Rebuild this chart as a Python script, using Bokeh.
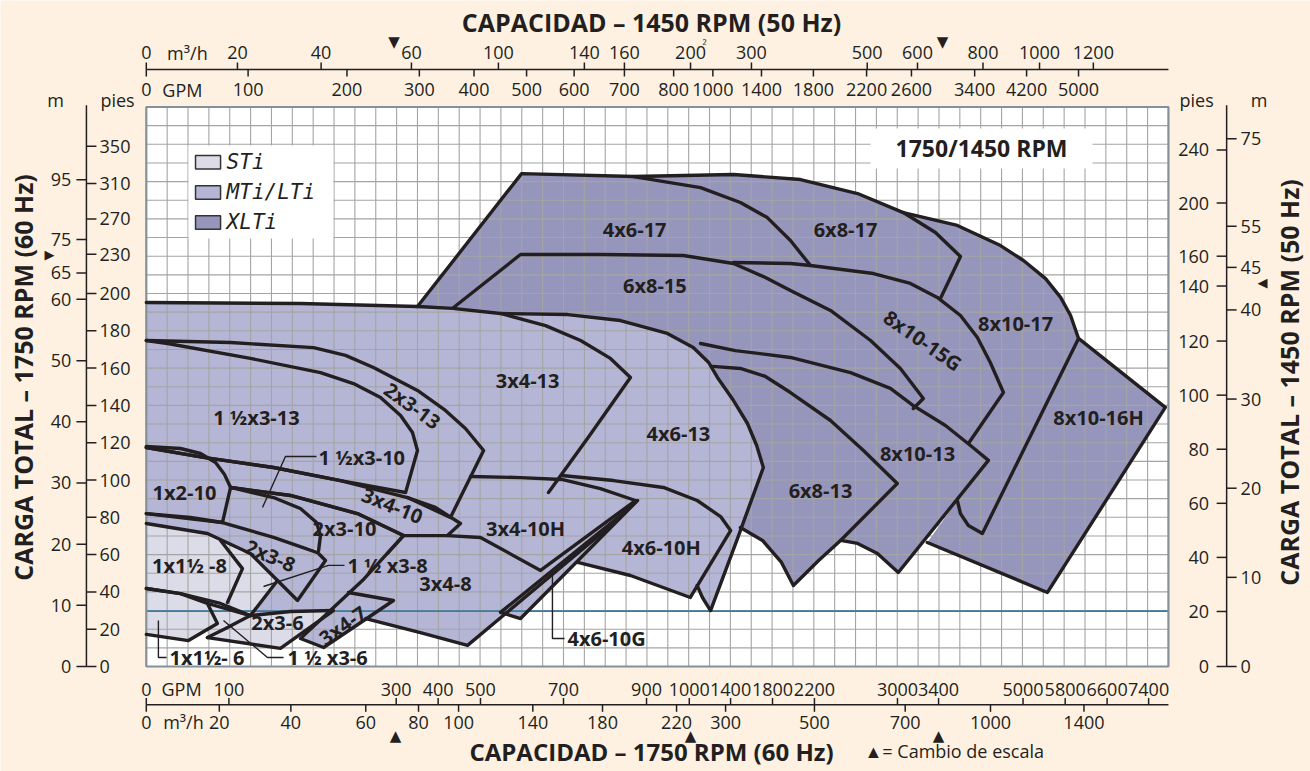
import math
from bokeh.plotting import figure
from bokeh.models import Range1d, ColumnDataSource
from bokeh.core.properties import value
from bokeh.embed import file_html
from bokeh.resources import INLINE

# ---------------------------------------------------------------------------
# DATA  (all positions in chart-grid units: columns across, rows up)
# ---------------------------------------------------------------------------
GRID_COLS = 49
GRID_ROWS = 30
BLUE_LINE_ROW = 2.97          # 20 ft at 1450 RPM

# --- pump coverage areas: visible outline, then hidden closing vertices ----
# XLTi
PUMP_4X6_17 = [(13.00, 19.30), (17.99, 26.43), (23.36, 26.27), (26.57, 25.68), (28.48, 24.88),
               (29.77, 24.07), (30.88, 22.84), (31.84, 21.50)]
PUMP_4X6_17_HIDDEN = [(28.15, 21.66), (25.75, 22.04), (17.94, 22.09), (14.73, 19.25)]
PUMP_6X8_17 = [(23.36, 26.27), (28.15, 26.38), (31.36, 26.11), (34.10, 25.36), (36.29, 24.34),
               (37.83, 23.27), (39.03, 21.98), (38.07, 19.73)]
PUMP_6X8_17_HIDDEN = [(34.86, 21.07), (31.84, 21.50)]
PUMP_8X10_17 = [(36.29, 24.34), (38.88, 23.65), (40.95, 22.57), (42.05, 21.77), (43.11, 20.80),
                (43.83, 19.79), (44.31, 18.82), (44.69, 17.59), (40.08, 7.13), (39.41, 7.56),
                (39.03, 8.20), (38.88, 8.90)]
PUMP_8X10_17_HIDDEN = [(39.41, 11.96), (41.09, 14.69), (40.46, 16.30), (39.84, 17.64), (39.03, 18.82),
                       (37.92, 19.79), (39.03, 21.98)]
PUMP_8X10_16H = [(44.69, 17.59), (48.85, 13.89), (43.20, 3.97), (37.44, 6.65)]
PUMP_8X10_16H_HIDDEN = [(38.88, 8.90), (39.41, 11.96), (41.09, 14.69)]
PUMP_8X10_15G = [(28.15, 21.66), (30.88, 21.61), (31.84, 21.50), (34.86, 21.07), (36.63, 20.54),
                 (37.92, 19.79), (39.03, 18.82), (39.84, 17.64), (40.46, 16.30), (41.09, 14.69),
                 (39.41, 11.96)]
PUMP_8X10_15G_HIDDEN = [(36.77, 13.83), (30.88, 20.16)]
PUMP_6X8_15 = [(14.73, 19.25), (17.94, 22.09), (21.77, 22.09), (25.75, 22.04), (28.15, 21.61),
               (29.68, 20.86), (30.88, 20.16), (32.80, 19.09), (34.72, 17.48), (36.15, 15.98),
               (37.25, 14.37), (36.77, 13.83)]
PUMP_6X8_15_HIDDEN = [(31.36, 15.87), (29.44, 15.34), (27.38, 15.50), (26.22, 17.10), (24.98, 17.69),
                      (22.73, 18.39), (20.20, 18.71), (16.98, 18.77)]
PUMP_8X10_13 = [(26.57, 17.32), (28.24, 16.94), (30.88, 16.57), (33.76, 15.76), (35.67, 14.91),
                (36.77, 13.99), (38.31, 12.92), (39.51, 11.85), (40.37, 11.05), (36.05, 5.04),
                (35.05, 6.06), (34.10, 6.60), (33.28, 6.76)]
PUMP_8X10_13_HIDDEN = []
PUMP_6X8_13 = [(27.15, 16.09), (28.48, 15.98), (29.68, 15.55), (30.88, 14.69), (32.80, 13.19),
               (34.38, 11.58), (36.00, 9.81), (33.28, 6.76), (32.23, 5.68), (31.02, 4.34),
               (30.45, 5.58), (29.54, 6.76), (28.48, 7.45)]
PUMP_6X8_13_HIDDEN = [(29.06, 12.12)]

# MTi / LTi
PUMP_3X4_13 = [(0.00, 19.52), (7.39, 19.46), (13.00, 19.30), (14.68, 19.20), (16.98, 18.93),
               (19.14, 18.28), (20.82, 17.48), (22.25, 16.52), (23.21, 15.50), (21.25, 12.39),
               (19.28, 9.33)]
PUMP_3X4_13_HIDDEN = [(15.06, 7.83), (0.00, 11.74)]
PUMP_4X6_13 = [(16.98, 18.93), (20.20, 18.87), (22.73, 18.55), (24.98, 17.86), (26.22, 17.10),
               (26.96, 16.30), (27.38, 15.50), (28.15, 14.26), (28.82, 13.03), (29.26, 11.85),
               (29.58, 10.67), (28.34, 6.86), (27.05, 3.00), (26.66, 3.70), (26.41, 4.34)]
PUMP_4X6_13_HIDDEN = [(20.68, 5.58), (19.28, 9.33), (23.21, 15.50)]
PUMP_1H3_13 = [(0.00, 17.48), (1.02, 17.32), (4.99, 16.52), (8.35, 15.76), (9.93, 15.17),
               (11.23, 14.42), (12.19, 13.46), (12.76, 12.55), (13.00, 11.58), (12.43, 9.33),
               (9.31, 9.97), (6.10, 10.67), (2.74, 11.21), (0.00, 11.74)]
PUMP_1H3_13_HIDDEN = []
PUMP_2X3_13 = [(0.00, 17.48), (4.04, 17.37), (8.02, 17.10), (9.55, 16.68), (10.89, 16.03),
               (13.00, 14.80), (14.34, 13.73), (15.30, 12.76), (16.17, 11.58), (14.58, 7.99),
               (12.52, 9.06), (9.31, 9.97), (6.10, 10.67), (2.74, 11.21), (0.00, 11.74)]
PUMP_2X3_13_HIDDEN = []
PUMP_1X2_10 = [(0.00, 11.80), (1.64, 11.69), (2.60, 11.42), (3.32, 10.94), (3.75, 10.29),
               (4.04, 9.60), (3.65, 7.72), (2.12, 7.99), (0.00, 8.20)]
PUMP_1X2_10_HIDDEN = []
PUMP_3X4_10 = [(12.52, 9.06), (13.86, 8.53), (15.06, 7.67), (14.44, 7.02), (12.33, 7.02),
               (10.12, 8.20), (6.91, 9.17), (4.04, 9.60)]
PUMP_3X4_10_HIDDEN = [(2.74, 11.21), (6.10, 10.67), (9.31, 9.97)]
PUMP_1H3_10 = [(4.04, 9.60), (6.10, 9.06), (7.39, 8.47), (8.16, 7.72), (8.35, 7.02), (8.26, 6.22)]
PUMP_1H3_10_HIDDEN = [(6.10, 6.92), (3.65, 7.72)]
PUMP_2X3_10 = [(4.04, 9.60), (6.91, 9.17), (10.12, 8.20), (12.33, 7.02), (11.56, 6.06)]
PUMP_2X3_10_HIDDEN = [(8.59, 5.68), (8.26, 6.22), (8.16, 7.72)]
PUMP_2X3_8 = [(0.00, 8.20), (3.65, 7.72), (6.10, 6.92), (8.21, 6.11), (8.59, 5.68), (7.25, 3.54),
              (6.29, 4.61), (4.99, 6.06), (2.93, 7.13), (0.00, 7.67)]
PUMP_2X3_8_HIDDEN = []
PUMP_3X4_7 = [(12.33, 7.02), (10.36, 4.61), (7.39, 1.50), (8.50, 1.02), (11.85, 3.54), (9.69, 3.97)]
PUMP_3X4_7_HIDDEN = []
PUMP_3X4_8 = [(22.73, 7.99), (15.40, 1.13), (13.14, 1.82), (10.52, 2.57)]
PUMP_3X4_8_HIDDEN = [(8.97, 3.00), (4.99, 2.73), (6.29, 4.61), (7.25, 3.54), (8.59, 5.68), (12.33, 7.02)]
PUMP_3X4_10H = [(15.54, 10.19), (17.94, 10.13), (19.91, 10.03), (21.77, 9.54), (23.45, 8.90),
                (18.90, 5.15), (16.02, 6.92), (14.44, 7.02)]
PUMP_3X4_10H_HIDDEN = []
PUMP_4X6_10G = [(22.73, 8.10), (16.98, 2.90), (17.94, 2.57), (23.55, 8.90), (22.73, 8.10)]
PUMP_4X6_10G_HIDDEN = []
PUMP_4X6_10H = [(19.91, 10.24), (22.40, 9.97), (24.79, 9.60), (26.41, 8.90), (27.53, 8.04),
                (28.01, 7.29), (26.08, 3.70), (23.21, 4.88), (20.68, 5.58)]
PUMP_4X6_10H_HIDDEN = []

# STi
PUMP_1X1H_8 = [(3.56, 6.76), (4.61, 5.25), (3.89, 3.43)]
PUMP_1X1H_8_HIDDEN = [(2.60, 3.75), (0.00, 4.08), (0.00, 7.72), (2.93, 7.13)]
PUMP_1H3_8 = [(6.29, 4.61), (4.99, 2.73), (3.56, 3.38), (1.64, 3.91), (0.00, 4.18)]
PUMP_1H3_8_HIDDEN = [(0.00, 7.67), (2.93, 7.13), (4.99, 6.06)]
PUMP_1X1H_6 = [(0.00, 4.18), (1.64, 3.91), (2.93, 3.38), (3.41, 2.31), (2.02, 1.39), (0.00, 1.72)]
PUMP_1X1H_6_HIDDEN = []
PUMP_1H3_6 = [(2.93, 3.38), (4.99, 2.73), (3.80, 2.04), (2.93, 1.55)]
PUMP_1H3_6_HIDDEN = []
PUMP_2X3_6 = [(4.99, 2.73), (6.91, 2.95), (8.97, 3.00), (6.43, 0.97), (2.93, 1.55)]
PUMP_2X3_6_HIDDEN = []

# --- pump labels ----------------------------------------------------------
LABELS = ["4x6-17", "6x8-17", "6x8-15", "8x10-15G", "8x10-17", "8x10-16H", "8x10-13", "6x8-13",
          "3x4-13", "4x6-13", "2x3-13", "1 ½x3-13", "1x2-10", "3x4-10", "2x3-10", "3x4-10H",
          "4x6-10H", "2x3-8", "1x1½ -8", "3x4-8", "2x3-6", "3x4-7"]
LABEL_C = [23.41, 33.52, 24.38, 37.22, 41.67, 45.65, 36.97, 32.32, 18.28, 25.51, 12.76, 5.28,
           1.83, 11.80, 9.50, 18.18, 24.69, 5.95, 2.07, 14.34, 6.29, 9.41]
LABEL_R = [23.43, 23.43, 20.43, 17.48, 18.39, 13.35, 11.42, 9.44, 15.34, 12.49, 13.99, 13.35,
           9.33, 8.63, 7.40, 7.40, 6.38, 5.95, 5.42, 4.45, 2.36, 2.20]
LABEL_ANGLE_DEG = [0, 0, 0, -35, 0, 0, 0, 0, 0, 0, -36, 0, 0, -22, 0, 0, 0, -23, 0, 0, 0, 35]

CALLOUTS = ["1 ½x3-10", "1 ½ x3-8", "1x1½- 6", "1 ½ x3-6", "4x6-10G"]
CALLOUT_C = [8.26, 9.64, 1.11, 6.77, 20.19]
CALLOUT_R = [11.21, 5.42, 0.48, 0.48, 1.50]
LEADER_1H3_10 = [(8.16, 11.26), (6.67, 11.26), (5.57, 8.53)]
LEADER_1H3_8 = [(9.50, 5.42), (8.73, 5.42), (5.62, 4.29)]
LEADER_1X1H_6 = [(0.58, 2.47), (0.58, 0.48), (0.97, 0.48)]
LEADER_1H3_6 = [(3.70, 2.47), (5.81, 0.48), (6.58, 0.48)]
LEADER_4X6_10G = [(19.47, 5.04), (19.47, 1.50), (20.05, 1.50)]

# --- axes -------------------------------------------------------------------
TOP_M3H_LABELS = ["0", "20", "40", "60", "100", "140", "160", "200", "300", "500", "600", "800", "1000", "1200"]
TOP_M3H_POS = [0, 4.37, 8.38, 12.71, 16.88, 21.00, 22.92, 26.09, 29.01, 34.56, 36.97, 40.11, 42.82, 45.40]
TOP_GPM_LABELS = ["0", "100", "200", "300", "400", "500", "600", "700", "800", "1000", "1400", "1800",
                  "2200", "2600", "3400", "4200", "5000"]
TOP_GPM_POS = [0, 4.88, 9.62, 13.09, 15.71, 18.23, 20.51, 22.92, 25.28, 27.16, 29.49, 31.98, 34.53,
               36.68, 39.71, 42.20, 44.69]
BOT_GPM_LABELS = ["0", "100", "300", "400", "500", "700", "900", "1000", "1400", "1800", "2200", "3000",
                  "3400", "5000", "5800", "6600", "7400"]
BOT_GPM_POS = [0, 3.96, 11.98, 13.99, 16.02, 20.00, 23.98, 26.03, 28.01, 30.02, 32.03, 36.01, 37.98,
               42.03, 44.05, 46.06, 48.05]
BOT_M3H_LABELS = ["0", "20", "40", "60", "80", "100", "140", "180", "220", "300", "500", "700", "1000", "1400"]
BOT_M3H_POS = [0, 3.50, 6.93, 10.52, 13.05, 14.97, 18.53, 21.87, 25.42, 27.77, 32.03, 36.38, 40.47, 44.95]

LEFT_FT_LABELS = ["0", "20", "40", "60", "80", "100", "120", "140", "160", "180", "200", "230", "270", "310", "350"]
LEFT_FT_POS = [0, 2, 4, 6, 8, 10, 12, 14, 16, 18, 20, 22.1, 24.0, 25.9, 27.9]
LEFT_M_LABELS = ["0", "10", "20", "30", "40", "50", "60", "65", "75", "95"]
LEFT_M_POS = [0, 3.28, 6.56, 9.84, 13.12, 16.40, 19.69, 21.1, 22.9, 26.1]
RIGHT_FT_LABELS = ["0", "20", "40", "60", "80", "100", "120", "140", "160", "200", "240"]
RIGHT_FT_POS = [0, 2.95, 5.85, 8.75, 11.65, 14.55, 17.45, 20.4, 22.0, 24.85, 27.7]
RIGHT_M_LABELS = ["0", "10", "20", "30", "40", "45", "55", "75"]
RIGHT_M_POS = [0, 4.78, 9.56, 14.34, 19.12, 21.4, 23.6, 28.3]

# scale-change markers
TOP_MARK_POS = [11.87, 38.17]
BOT_MARK_POS = [11.95, 26.09, 37.98]
LEFT_MARK_ROW = 22.1
RIGHT_MARK_ROW = 20.6

LEGEND_NAMES = ["STi", "MTi/LTi", "XLTi"]

# ---------------------------------------------------------------------------
# STYLE / LAYOUT
# ---------------------------------------------------------------------------
BG = "#fef1e2"
INK = "#231f20"
STI_C = "#dcdce9"
MTI_C = "#b5b6d5"
XLTI_C = "#9696bd"
GRID_C = "#a4a4a4"
BORDER_C = "#84909a"
BLUE_C = "#3a7ca5"
FONT = "Open Sans"

W, H = 1310, 771
COL_PX, ROW_PX = 20.86, 18.65
GRID_X0_PX, GRID_Y0_PX = 145.8, 666.0       # grid origin inside the canvas
x_start = -GRID_X0_PX / COL_PX
x_end = (W - GRID_X0_PX) / COL_PX
y_start = -(H - GRID_Y0_PX) / ROW_PX
y_end = GRID_Y0_PX / ROW_PX

p = figure(width=W, height=H, x_range=Range1d(x_start, x_end), y_range=Range1d(y_start, y_end),
           output_backend="svg", toolbar_location=None, min_border=0,
           x_axis_location=None, y_axis_location=None,
           background_fill_color=BG, border_fill_color=BG)
p.grid.visible = False
p.outline_line_color = None


def text(xs, ys, texts, size, style="normal", align="center", angles=None, font=FONT,
         color=INK, baseline="middle"):
    if angles is None:
        angles = [0.0] * len(xs)
    src = ColumnDataSource(dict(x=list(xs), y=list(ys), t=list(texts), a=list(angles)))
    p.text(x="x", y="y", text="t", angle="a", source=src, text_font=value(font),
           text_font_size=size, text_font_style=style, text_align=align,
           text_baseline=baseline, text_color=color)


# white grid background
p.quad(left=[0], right=[GRID_COLS], bottom=[0], top=[GRID_ROWS], fill_color="white", line_color=None)

PUMPS = [
    ("XLTi", PUMP_4X6_17, PUMP_4X6_17_HIDDEN), ("XLTi", PUMP_6X8_17, PUMP_6X8_17_HIDDEN),
    ("XLTi", PUMP_8X10_17, PUMP_8X10_17_HIDDEN), ("XLTi", PUMP_8X10_16H, PUMP_8X10_16H_HIDDEN),
    ("XLTi", PUMP_8X10_15G, PUMP_8X10_15G_HIDDEN), ("XLTi", PUMP_6X8_15, PUMP_6X8_15_HIDDEN),
    ("XLTi", PUMP_8X10_13, PUMP_8X10_13_HIDDEN), ("XLTi", PUMP_6X8_13, PUMP_6X8_13_HIDDEN),
    ("MTi", PUMP_3X4_13, PUMP_3X4_13_HIDDEN), ("MTi", PUMP_4X6_13, PUMP_4X6_13_HIDDEN),
    ("MTi", PUMP_1H3_13, PUMP_1H3_13_HIDDEN), ("MTi", PUMP_2X3_13, PUMP_2X3_13_HIDDEN),
    ("MTi", PUMP_1X2_10, PUMP_1X2_10_HIDDEN), ("MTi", PUMP_3X4_10, PUMP_3X4_10_HIDDEN),
    ("MTi", PUMP_1H3_10, PUMP_1H3_10_HIDDEN), ("MTi", PUMP_2X3_10, PUMP_2X3_10_HIDDEN),
    ("MTi", PUMP_2X3_8, PUMP_2X3_8_HIDDEN), ("MTi", PUMP_3X4_7, PUMP_3X4_7_HIDDEN),
    ("MTi", PUMP_3X4_8, PUMP_3X4_8_HIDDEN), ("MTi", PUMP_3X4_10H, PUMP_3X4_10H_HIDDEN),
    ("MTi", PUMP_4X6_10G, PUMP_4X6_10G_HIDDEN), ("MTi", PUMP_4X6_10H, PUMP_4X6_10H_HIDDEN),
    ("STi", PUMP_1X1H_8, PUMP_1X1H_8_HIDDEN), ("STi", PUMP_1H3_8, PUMP_1H3_8_HIDDEN),
    ("STi", PUMP_1X1H_6, PUMP_1X1H_6_HIDDEN), ("STi", PUMP_1H3_6, PUMP_1H3_6_HIDDEN),
    ("STi", PUMP_2X3_6, PUMP_2X3_6_HIDDEN),
]
SERIES_COLOR = {"STi": STI_C, "MTi": MTI_C, "XLTi": XLTI_C}

for series in ["XLTi", "MTi", "STi"]:
    xs, ys = [], []
    for s, edge, hidden in PUMPS:
        if s != series:
            continue
        pts = edge + hidden
        xs.append([q[0] for q in pts])
        ys.append([q[1] for q in pts])
    p.patches(xs, ys, fill_color=SERIES_COLOR[series], line_color=None)

# grid lines
vx = list(range(1, GRID_COLS))
hy = list(range(1, GRID_ROWS))
p.segment(x0=vx, y0=[0] * len(vx), x1=vx, y1=[GRID_ROWS] * len(vx), line_color=GRID_C, line_width=1.1)
p.segment(x0=[0] * len(hy), y0=hy, x1=[GRID_COLS] * len(hy), y1=hy, line_color=GRID_C, line_width=1.1)
p.line([0, GRID_COLS], [BLUE_LINE_ROW, BLUE_LINE_ROW], line_color=BLUE_C, line_width=1.6)
p.quad(left=[0], right=[GRID_COLS], bottom=[0], top=[GRID_ROWS], fill_color=None,
       line_color=BORDER_C, line_width=2.2)

# outlines
p.multi_line([[q[0] for q in e] for _, e, _ in PUMPS], [[q[1] for q in e] for _, e, _ in PUMPS],
             line_color=INK, line_width=3.4, line_join="round", line_cap="round")
LEADERS = [LEADER_1H3_10, LEADER_1H3_8, LEADER_1X1H_6, LEADER_1H3_6, LEADER_4X6_10G]
p.multi_line([[q[0] for q in l] for l in LEADERS], [[q[1] for q in l] for l in LEADERS],
             line_color=INK, line_width=1.4)

# labels
text(LABEL_C, LABEL_R, LABELS, "20px", "bold", angles=[math.radians(a) for a in LABEL_ANGLE_DEG])
text(CALLOUT_C, CALLOUT_R, CALLOUTS, "20px", "bold", align="left")

# legend box
p.quad(left=[2.02], right=[8.97], bottom=[22.95], top=[27.94], fill_color="white", line_color=None)
LEG_ROWS = [27.04, 25.42, 23.81]
p.quad(left=[2.36] * 3, right=[3.56] * 3, bottom=[r - 0.36 for r in LEG_ROWS], top=[r + 0.36 for r in LEG_ROWS],
       fill_color=[STI_C, MTI_C, XLTI_C], line_color="#333333", line_width=1.5)
text([3.85] * 3, LEG_ROWS, LEGEND_NAMES, "21px", "italic", align="left", font="DejaVu Sans Mono")

# speed box
p.quad(left=[34.72], right=[45.36], bottom=[26.70], top=[28.85], fill_color="white", line_color=None)
text([40.04], [27.78], ["1750/1450 RPM"], "23px", "bold")

# ---------------- axes ----------------
AX_W = 1.5
# top
TOP_R = 32.01
p.line([0, GRID_COLS], [TOP_R, TOP_R], line_color=INK, line_width=AX_W)
p.segment(x0=TOP_M3H_POS, y0=[TOP_R] * len(TOP_M3H_POS), x1=TOP_M3H_POS, y1=[TOP_R + 0.37] * len(TOP_M3H_POS),
          line_color=INK, line_width=AX_W)
p.segment(x0=TOP_GPM_POS, y0=[TOP_R] * len(TOP_GPM_POS), x1=TOP_GPM_POS, y1=[TOP_R - 0.37] * len(TOP_GPM_POS),
          line_color=INK, line_width=AX_W)
text(TOP_M3H_POS, [32.92] * len(TOP_M3H_POS), TOP_M3H_LABELS, "18px")
text(TOP_GPM_POS, [30.92] * len(TOP_GPM_POS), TOP_GPM_LABELS, "18px")
text([1.97], [32.92], ["m³/h"], "18px")
text([1.73], [30.92], ["GPM"], "18px")
text(TOP_MARK_POS, [33.46] * 2, ["▼"] * 2, "15px", font="DejaVu Sans")
text([26.76], [33.32], ["²"], "12px")
text([24.22], [34.55], ["CAPACIDAD – 1450 RPM (50 Hz)"], "25px", "bold")

# bottom
BOT_R = -2.05
p.line([0, GRID_COLS], [BOT_R, BOT_R], line_color=INK, line_width=AX_W)
p.segment(x0=BOT_GPM_POS, y0=[BOT_R] * len(BOT_GPM_POS), x1=BOT_GPM_POS, y1=[BOT_R + 0.36] * len(BOT_GPM_POS),
          line_color=INK, line_width=AX_W)
p.segment(x0=BOT_M3H_POS, y0=[BOT_R] * len(BOT_M3H_POS), x1=BOT_M3H_POS, y1=[BOT_R - 0.38] * len(BOT_M3H_POS),
          line_color=INK, line_width=AX_W)
text(BOT_GPM_POS, [-1.23] * len(BOT_GPM_POS), BOT_GPM_LABELS, "18px")
text(BOT_M3H_POS, [-3.00] * len(BOT_M3H_POS), BOT_M3H_LABELS, "18px")
text([1.69], [-1.23], ["GPM"], "18px")
text([1.78], [-3.00], ["m³/h"], "18px")
text(BOT_MARK_POS, [-3.75] * 3, ["▲"] * 3, "15px", font="DejaVu Sans")
text([24.22], [-4.55], ["CAPACIDAD – 1750 RPM (60 Hz)"], "24px", "bold")
text([34.43], [-4.55], ["▲= Cambio de escala"], "18px", align="left")

# left
LEFT_C = -2.87
p.line([LEFT_C, LEFT_C], [0, 30.1], line_color=INK, line_width=AX_W)
p.segment(x0=[LEFT_C] * len(LEFT_M_POS), y0=LEFT_M_POS, x1=[LEFT_C - 0.48] * len(LEFT_M_POS), y1=LEFT_M_POS,
          line_color=INK, line_width=AX_W)
p.segment(x0=[LEFT_C] * len(LEFT_FT_POS), y0=LEFT_FT_POS, x1=[LEFT_C + 0.48] * len(LEFT_FT_POS), y1=LEFT_FT_POS,
          line_color=INK, line_width=AX_W)
text([-3.59] * len(LEFT_M_POS), LEFT_M_POS, LEFT_M_LABELS, "18px", align="right")
text([-2.24] * len(LEFT_FT_POS), LEFT_FT_POS, LEFT_FT_LABELS, "18px", align="left")
text([-4.35, -1.38], [30.35, 30.35], ["m", "pies"], "18px")
text([-4.64], [LEFT_MARK_ROW], ["▶"], "13px", font="DejaVu Sans")
text([-5.91], [15.5], ["CARGA TOTAL – 1750 RPM (60 Hz)"], "25px", "bold", angles=[math.pi / 2])

# right
RIGHT_C = 51.79
p.line([RIGHT_C, RIGHT_C], [0, 30.1], line_color=INK, line_width=AX_W)
p.segment(x0=[RIGHT_C] * len(RIGHT_FT_POS), y0=RIGHT_FT_POS, x1=[RIGHT_C - 0.48] * len(RIGHT_FT_POS),
          y1=RIGHT_FT_POS, line_color=INK, line_width=AX_W)
p.segment(x0=[RIGHT_C] * len(RIGHT_M_POS), y0=RIGHT_M_POS, x1=[RIGHT_C + 0.48] * len(RIGHT_M_POS),
          y1=RIGHT_M_POS, line_color=INK, line_width=AX_W)
text([50.95] * len(RIGHT_FT_POS), RIGHT_FT_POS, RIGHT_FT_LABELS, "18px", align="right")
text([52.46] * len(RIGHT_M_POS), RIGHT_M_POS, RIGHT_M_LABELS, "18px", align="left")
text([50.35, 53.35], [30.4, 30.4], ["pies", "m"], "18px")
text([53.51], [RIGHT_MARK_ROW], ["◀"], "13px", font="DejaVu Sans")
text([54.76], [15.23], ["CARGA TOTAL – 1450 RPM (50 Hz)"], "25px", "bold", angles=[math.pi / 2])

open("out.html", "w").write(file_html(p, INLINE, title="Cobertura hidráulica"))
